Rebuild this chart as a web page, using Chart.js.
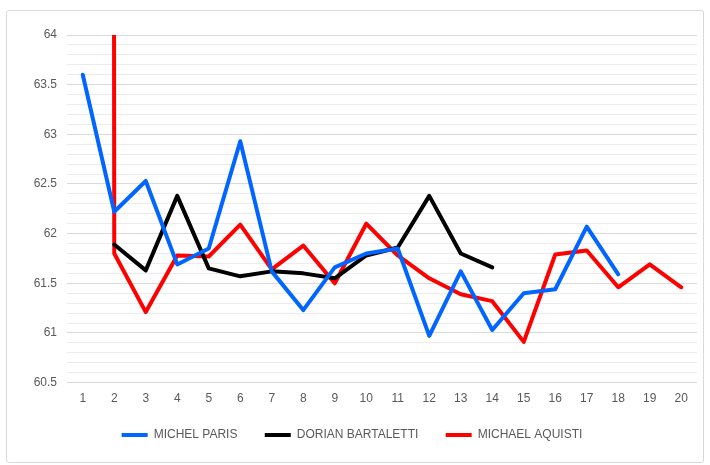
<!DOCTYPE html>
<html>
<head>
<meta charset="utf-8">
<script src="https://cdn.jsdelivr.net/npm/chart.js@4"></script>
<style>
  body { margin: 0; background: #fff; }
  #wrap { position: relative; width: 710px; height: 465px; }
  #frame { position: absolute; left: 6px; top: 10px; width: 696px; height: 451px; border: 1px solid #d9d9d9; border-radius: 3px; }
  canvas { position: absolute; left: 0; top: 0; }
</style>
</head>
<body>
<div id="wrap">
  <div id="frame"></div>
  <canvas id="myChart" width="710" height="465"></canvas>
</div>
<script>
// categories 1..20
const labels = ['1', '2', '3', '4', '5', '6', '7', '8', '9', '10', '11', '12', '13', '14', '15', '16', '17', '18', '19', '20']

const michelParis = [63.6, 62.22, 62.53, 61.69, 61.85, 62.93, 61.62, 61.23, 61.66, 61.8, 61.85, 60.97, 61.62, 61.03, 61.4, 61.44, 62.07, 61.59, null, null]
const dorianBartaletti = [null, 61.89, 61.63, 62.38, 61.65, 61.57, 61.62, 61.6, 61.55, 61.78, 61.86, 62.38, 61.8, 61.66, null, null, null, null, null, null]
// first value is far off the scale (line shoots straight up at 2)
const michaelAquisti = [1000, 61.8, 61.21, 61.78, 61.77, 62.09, 61.64, 61.88, 61.5, 62.1, 61.78, 61.55, 61.39, 61.32, 60.91, 61.79, 61.83, 61.46, 61.69, 61.46]

const seriesNames = ['MICHEL PARIS', 'DORIAN BARTALETTI', 'MICHAEL AQUISTI']
const seriesColors = ['#0066ff', '#000000', '#ff0000']

const fontFamily = '"Liberation Sans Narrow", "Liberation Sans", Arial, sans-serif'

function makeSet(i, data) {
  return {
    label: seriesNames[i],
    data: data,
    borderColor: seriesColors[i],
    backgroundColor: seriesColors[i],
    borderWidth: 4,
    borderCapStyle: 'round',
    borderJoinStyle: 'round',
    pointRadius: 0,
    tension: 0,
    spanGaps: false,
  }
}

const isMajor = (v) => Math.abs(v * 2 - Math.round(v * 2)) < 1e-6

var ctx = document.getElementById('myChart').getContext('2d')
var myChart = new Chart(ctx, {
  type: 'line',
  data: {
    labels: labels,
    datasets: [
      makeSet(0, michelParis),
      makeSet(1, dorianBartaletti),
      makeSet(2, michaelAquisti),
    ],
  },
  options: {
    responsive: false,
    animation: false,
    layout: { padding: { left: 7, right: 13, top: 35, bottom: 14 } },
    plugins: {
      tooltip: { enabled: false },
      legend: {
        position: 'bottom',
        labels: {
          usePointStyle: true,
          pointStyle: 'line',
          pointStyleWidth: 26,
          padding: 14,
          color: '#595959',
          font: { family: fontFamily, size: 12 },
          generateLabels: (chart) => {
            // a bit of extra room between the legend items
            const items = Chart.defaults.plugins.legend.labels.generateLabels(chart)
            items.forEach((it, i) => { if (i < items.length - 1) it.text = it.text + '    ' })
            return items
          },
        },
      },
    },
    scales: {
      x: {
        offset: true,
        grid: { display: false, drawTicks: false },
        border: { display: false },
        ticks: { color: '#595959', font: { family: fontFamily, size: 12 }, padding: 9, maxRotation: 0, autoSkip: false },
      },
      y: {
        min: 60.5,
        max: 64,
        grid: {
          drawTicks: false,
          color: (c) => (c.tick && isMajor(c.tick.value) ? '#d9d9d9' : '#ececec'),
          lineWidth: 1,
        },
        border: { display: false },
        ticks: {
          stepSize: 0.1,
          autoSkip: false,
          padding: 10,
          color: '#595959',
          font: { family: fontFamily, size: 12 },
          callback: (v) => (isMajor(v) ? String(Math.round(v * 10) / 10) : ''),
        },
        afterFit: (scale) => { scale.width = 60 },
      },
    },
  },
})
</script>
</body>
</html>
